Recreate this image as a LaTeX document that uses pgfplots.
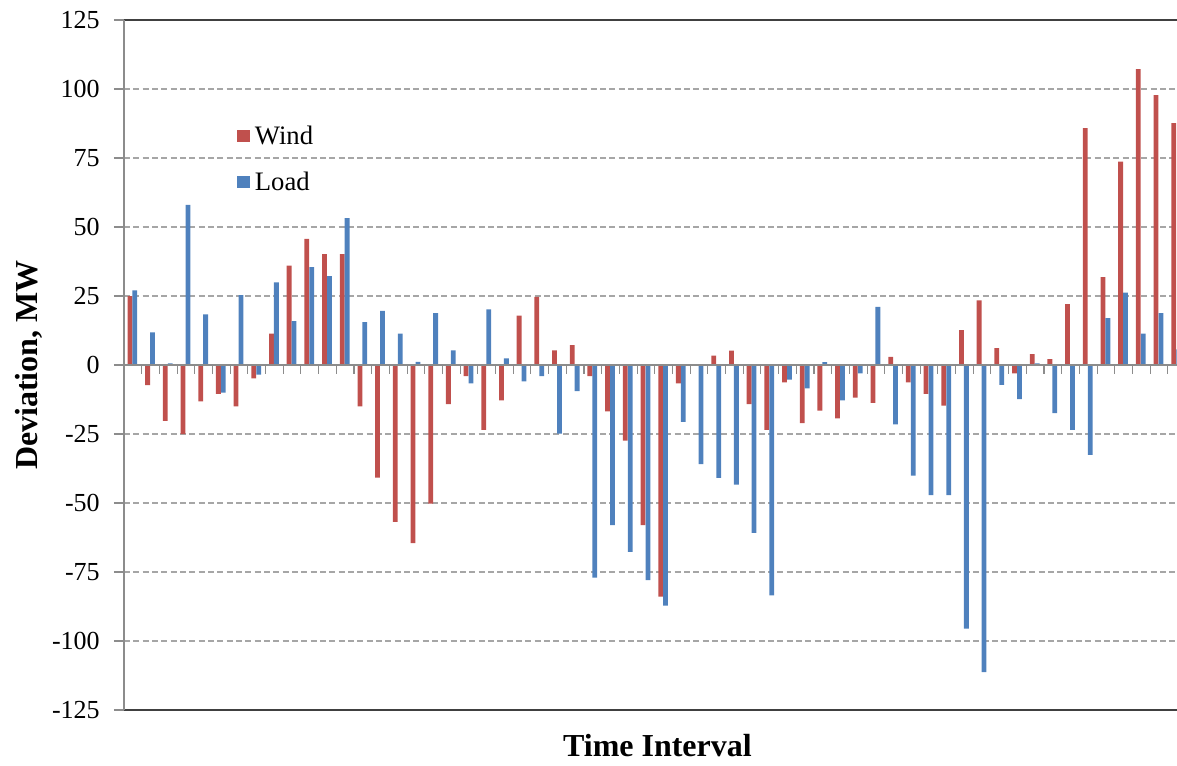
\documentclass[border=0pt]{standalone}
\usepackage{fontspec}
\setmainfont{Liberation Serif}
\usepackage{pgfplots}
\pgfplotsset{compat=1.18}
\usepackage{pgfplotstable}
\definecolor{windred}{HTML}{C0504D}
\definecolor{loadblue}{HTML}{4F81BD}
\definecolor{gridgray}{HTML}{A6A6A6}
\definecolor{axgray}{HTML}{8C8C8C}
\pgfplotstableread{
x wind load
0 25 27
1 -7.3 11.8
2 -20.2 0.6
3 -25 58
4 -13.2 18.3
5 -10.5 -10
6 -15 25.3
7 -4.8 -3.5
8 11.4 29.9
9 36 15.9
10 45.7 35.5
11 40.2 32.2
12 40.2 53.2
13 -15 15.5
14 -40.8 19.6
15 -56.8 11.4
16 -64.5 1.1
17 -50.2 18.8
18 -14.2 5.3
19 -4 -6.7
20 -23.5 20.2
21 -12.8 2.4
22 17.9 -5.9
23 24.7 -4
24 5.3 -24.9
25 7.2 -9.5
26 -4 -77
27 -16.8 -58
28 -27.4 -67.7
29 -58 -77.9
30 -83.9 -87.2
31 -6.7 -20.6
32 0 -35.9
33 3.4 -40.9
34 5.2 -43.3
35 -14.2 -60.8
36 -23.5 -83.5
37 -6.3 -5.3
38 -21.1 -8.5
39 -16.5 1.0
40 -19.3 -12.8
41 -11.8 -3.0
42 -13.7 21.1
43 2.9 -21.5
44 -6.3 -40.1
45 -10.5 -47.1
46 -14.7 -47.1
47 12.6 -95.5
48 23.4 -111.3
49 6.1 -7.2
50 -3.0 -12.4
51 3.9 0.6
52 2.1 -17.4
53 22.1 -23.5
54 85.8 -32.6
55 31.8 17.0
56 73.7 26.2
57 107.2 11.4
58 97.8 18.8
59 87.6 5.7
}\devtable
\begin{document}
\begin{tikzpicture}
\path[use as bounding box] (0,0) rectangle (882.75pt,573.75pt);
\begin{axis}[
  at={(93pt,41.25pt)}, anchor=south west,
  scale only axis, width=789.75pt, height=517.5pt,
  xmin=-0.5, xmax=59.02, ymin=-125, ymax=125,
  enlargelimits=false,
  axis x line*=box, axis y line*=left,
  x axis line style={draw=black!75, line width=1.1pt},
  y axis line style={draw=axgray, line width=0.8pt},
  xtick=\empty,
  ytick={-125,-100,-75,-50,-25,0,25,50,75,100,125},
  yticklabels={-125,-100,-75,-50,-25,0,25,50,75,100,125},
  yticklabel style={font=\fontsize{19.5}{22}\selectfont, inner sep=0pt, xshift=-10.5pt},
  tick align=outside, major tick length=7.5pt,
  ytick style={draw=axgray, line width=0.8pt},
  ymajorgrids,
  major grid style={draw=gridgray, line width=0.8pt, dash pattern=on 4.5pt off 2.5pt},
  ylabel={Deviation, MW},
  ylabel style={at={(axis description cs:-0.0905,0.5)}, anchor=center, rotate=0, font=\fontsize{24}{28}\selectfont\bfseries},
  xlabel={Time Interval},
  xlabel style={at={(axis description cs:0.5066,-0.052)}, anchor=center, font=\fontsize{24}{28}\selectfont\bfseries},
  ybar, bar width=3.6pt,
  legend style={at={(axis description cs:0.107,0.7986)}, anchor=west, draw=none, fill=none,
    font=\fontsize{20}{24}\selectfont, row sep=19pt, inner sep=0pt,
    nodes={inner xsep=4pt, inner ysep=0pt}},
  legend cell align=left,
  legend image code/.code={\fill[#1,draw=none] (0pt,-4.75pt) rectangle (9.5pt,4.75pt);},
]
\addplot[fill=windred, draw=none, bar shift=-2.2pt] table[x=x,y=wind] {\devtable};
\addplot[fill=loadblue, draw=none, bar shift=1.5pt] table[x=x,y=load] {\devtable};
\legend{Wind,Load}
\draw[axgray, line width=0.8pt] (axis cs:-0.5,0) -- (axis cs:59.02,0);
\pgfplotsinvokeforeach{0.5,1.5,...,58.5}{
  \draw[axgray, line width=0.8pt] (axis cs:#1,0) -- ([yshift=-7pt]axis cs:#1,0);
}
\end{axis}
\end{tikzpicture}
\end{document}
